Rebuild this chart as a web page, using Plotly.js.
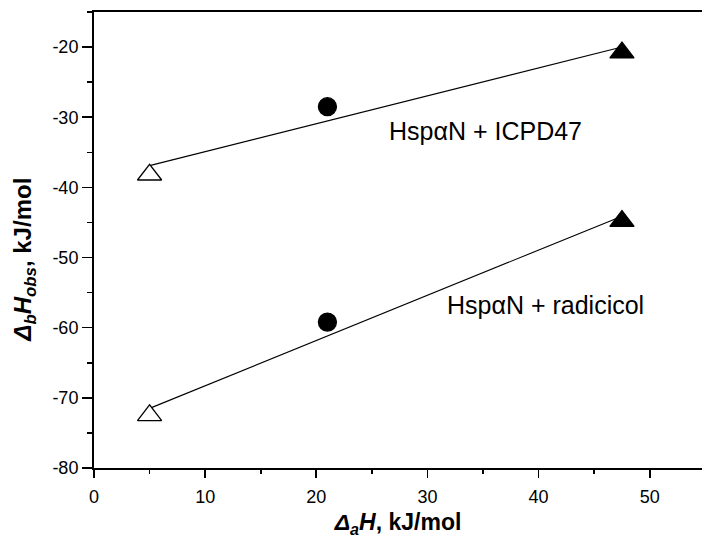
<!DOCTYPE html>
<html>
<head>
<meta charset="utf-8">
<script src="https://cdn.plot.ly/plotly-3.0.1.min.js"></script>
<style>html,body{margin:0;padding:0;background:#fff;overflow:hidden;}#chart{width:702px;height:542px;}</style>
</head>
<body>
<div id="chart"></div>
<script>
// Data
const deltaAH = [5, 21, 47.5];                 // Δa H, kJ/mol
const icpd47Y = [-38.2, -28.5, -20.8];        // Δb H_obs, HspαN + ICPD47
const radicicolY = [-72.5, -59.2, -44.8];     // Δb H_obs, HspαN + radicicol
const pointSymbols = ['triangle-up', 'circle', 'triangle-up'];
const pointFills = ['white', 'black', 'black'];
const fitX = [5, 47.5];
const icpd47FitY = [-36.9, -20.0];
const radicicolFitY = [-71.5, -44.1];
const seriesLabels = ['HspαN + ICPD47', 'HspαN + radicicol'];
const xTickVals = [0, 10, 20, 30, 40, 50];
const xTickText = ['0', '10', '20', '30', '40', '50'];
const yTickVals = [-80, -70, -60, -50, -40, -30, -20];
const yTickText = ['-80', '-70', '-60', '-50', '-40', '-30', '-20'];

const FONT = 'Arial, "Liberation Sans", sans-serif';

function fitTrace(y) {
  return {x: fitX, y: y, mode: 'lines', line: {color: 'black', width: 1.1}, hoverinfo: 'skip', showlegend: false};
}
function pointTrace(y) {
  return {
    x: deltaAH, y: y, mode: 'markers', showlegend: false,
    marker: {
      symbol: pointSymbols,
      color: pointFills,
      opacity: 1,
      size: [21, 18, 21],
      line: {color: 'black', width: 1.3}
    }
  };
}

const data = [fitTrace(icpd47FitY), fitTrace(radicicolFitY), pointTrace(icpd47Y), pointTrace(radicicolY)];

const layout = {
  width: 702, height: 542,
  margin: {l: 94, r: 0, t: 12, b: 74},
  paper_bgcolor: 'white', plot_bgcolor: 'white',
  font: {family: FONT, color: 'black', size: 18},
  xaxis: {
    range: [0, 54.7],
    tickvals: xTickVals, ticktext: xTickText,
    ticks: 'outside', ticklen: 8, tickwidth: 1.6, tickcolor: 'black',
    minor: {dtick: 5, tick0: 0, ticks: 'outside', ticklen: 4, tickwidth: 1.6, tickcolor: 'black', showgrid: false},
    showgrid: false, zeroline: false,
    showline: true, linewidth: 2, linecolor: 'black', mirror: true,
    ticklabelstandoff: 3,
    tickfont: {size: 18, family: FONT},
    title: {text: '<i>Δ</i><sub><i>a</i></sub><i>H</i>, kJ/mol', font: {size: 23, family: FONT, weight: 'bold'}, standoff: 8}
  },
  yaxis: {
    range: [-80, -15],
    tickvals: yTickVals, ticktext: yTickText,
    ticks: 'outside', ticklen: 10, tickwidth: 1.6, tickcolor: 'black',
    minor: {dtick: 5, tick0: 0, ticks: 'outside', ticklen: 5, tickwidth: 1.6, tickcolor: 'black', showgrid: false},
    showgrid: false, zeroline: false,
    showline: true, linewidth: 2, linecolor: 'black', mirror: false,
    ticklabelstandoff: 0,
    tickfont: {size: 18, family: FONT}
  },
  annotations: [
    {x: 26.35, y: -32.0, xref: 'x', yref: 'y', text: seriesLabels[0], showarrow: false, xanchor: 'left', yanchor: 'middle', font: {size: 25, family: FONT, color: 'black'}},
    {x: 31.56, y: -56.8, xref: 'x', yref: 'y', text: seriesLabels[1], showarrow: false, xanchor: 'left', yanchor: 'middle', font: {size: 25, family: FONT, color: 'black'}},
    {x: 0, y: -50.3, xref: 'paper', yref: 'y', xshift: -69, text: '<i>Δ</i><sub><i>b</i></sub><i>H</i><sub><i>obs</i></sub>, kJ/mol', textangle: -90, showarrow: false, xanchor: 'center', yanchor: 'middle', font: {size: 24, family: FONT, color: 'black', weight: 'bold'}}
  ]
};

Plotly.newPlot('chart', data, layout, {staticPlot: true, displayModeBar: false});
</script>
</body>
</html>
